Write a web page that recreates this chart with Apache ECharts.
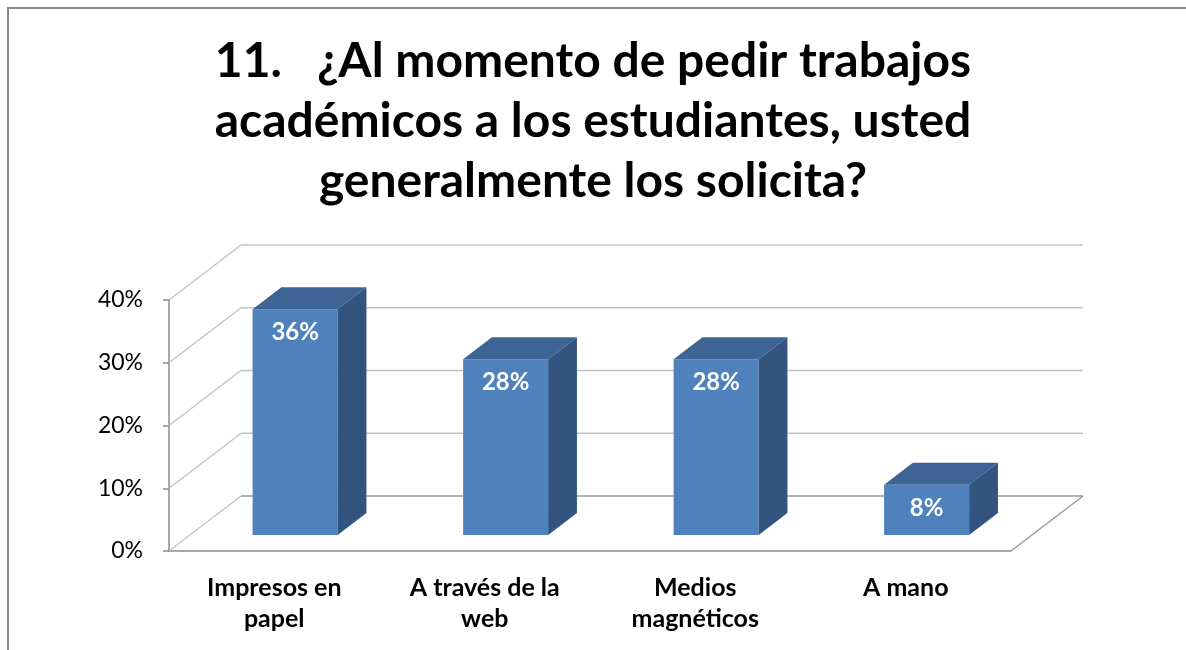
<!DOCTYPE html>
<html>
<head>
<meta charset="utf-8">
<script src="https://cdn.jsdelivr.net/npm/echarts@6/dist/echarts.min.js"></script>
<style>
  html, body { margin: 0; padding: 0; background: #fff; }
  #chart { width: 1186px; height: 650px; }
</style>
</head>
<body>
<div id="chart"></div>
<script>
// datos de la pregunta 11
const categorias = ['Impresos en\npapel', 'A través de la\nweb', 'Medios\nmagnéticos', 'A mano'];
const porcentajes = [36, 28, 28, 8];
const ticksY = [0, 10, 20, 30, 40];

const titulo = '11.   ¿Al momento de pedir trabajos\nacadémicos a los estudiantes, usted\ngeneralmente los solicita?';

// vector de profundidad del "3D" (pared trasera) y posición de las barras en esa profundidad
const DX = 72, DY = -55;
const Z0 = 0.29, ZD = 0.40;
const ANCHO_BARRA = 0.404;
const FUENTE = 'Lato, "Noto Sans", sans-serif';

let chartDom = document.getElementById('chart');
let myChart = echarts.init(chartDom);

// paredes: lineas de division en la pared izquierda y trasera, mas el piso
function renderParedes(params, api) {
    let cs = params.coordSys;
    let v = api.value(1);
    let y = api.coord([0, v])[1];
    let x0 = cs.x, x1 = cs.x + cs.width;
    let esPiso = v === 0;
    let color = '#c4c4c4';
    let children = [
        { type: 'line', shape: { x1: x0, y1: y, x2: x0 + DX, y2: y + DY }, style: { stroke: color, lineWidth: 1.5 } },
        { type: 'line', shape: { x1: x0 + DX, y1: y + DY, x2: x1 + DX, y2: y + DY }, style: { stroke: esPiso ? '#9a9a9a' : color, lineWidth: 1.5 } }
    ];
    if (esPiso) {
        children.push({ type: 'line', shape: { x1: x1, y1: y, x2: x1 + DX, y2: y + DY }, style: { stroke: '#9a9a9a', lineWidth: 1.5 } });
    }
    return { type: 'group', children: children };
}

// barras con cara frontal, superior y lateral
function renderBarra(params, api) {
    let i = api.value(0);
    let v = api.value(1);
    let base = api.coord([i, 0]);
    let tope = api.coord([i, v]);
    let banda = api.size([1, 0])[0];
    let bw = banda * ANCHO_BARRA;
    let cx = base[0] + DX * Z0;
    let L = cx - bw / 2, R = cx + bw / 2;
    let T = tope[1] + DY * Z0, B = base[1] + DY * Z0;
    let dx = DX * ZD, dy = DY * ZD;
    return {
        type: 'group',
        children: [
            { type: 'rect', shape: { x: L, y: T, width: bw, height: B - T }, style: { fill: '#4f81bd' } },
            { type: 'polygon', shape: { points: [[L, T], [R, T], [R + dx, T + dy], [L + dx, T + dy]] }, style: { fill: '#3d6494' } },
            { type: 'polygon', shape: { points: [[R, T], [R + dx, T + dy], [R + dx, B + dy], [R, B]] }, style: { fill: '#33547e' } },
            { type: 'text', style: { x: cx, y: T + 23, text: v + '%', fill: '#ffffff', font: 'bold 24px ' + FUENTE, align: 'center', verticalAlign: 'middle' } }
        ]
    };
}

let option = {
    animation: false,
    backgroundColor: '#ffffff',
    textStyle: { fontFamily: FUENTE },
    graphic: [
        { type: 'rect', shape: { x: 8, y: 8, width: 1300, height: 800 }, style: { fill: 'none', stroke: '#8a8a8a', lineWidth: 2 }, z: 100 }
    ],
    title: {
        text: titulo,
        left: 'center',
        top: 27,
        textStyle: { fontFamily: FUENTE, fontSize: 48, fontWeight: 'bold', color: '#000', lineHeight: 60 }
    },
    grid: { left: 169, right: 175, top: 300, bottom: 99 },
    xAxis: {
        type: 'category',
        data: categorias,
        axisLine: { lineStyle: { color: '#8c8c8c', width: 1.5 } },
        axisTick: { length: 6, lineStyle: { color: '#8c8c8c', width: 1.5 } },
        axisLabel: { margin: 21, fontFamily: FUENTE, fontSize: 25, fontWeight: 'bold', color: '#000', lineHeight: 31, interval: 0 }
    },
    yAxis: {
        type: 'value',
        min: 0, max: 40, interval: 10,
        axisLine: { show: true, lineStyle: { color: '#8c8c8c', width: 1.5 } },
        axisTick: { show: true, length: 6, lineStyle: { color: '#8c8c8c', width: 1.5 } },
        splitLine: { show: false },
        axisLabel: { formatter: '{value}%', margin: 26, fontFamily: FUENTE, fontSize: 23, color: '#000' }
    },
    series: [
        {
            type: 'custom',
            renderItem: renderParedes,
            data: ticksY.map(t => [0, t]),
            encode: { x: 0, y: 1 },
            z: 1,
            silent: true
        },
        {
            type: 'custom',
            renderItem: renderBarra,
            data: porcentajes.map((p, i) => [i, p]),
            encode: { x: 0, y: 1 },
            z: 3
        }
    ]
};
myChart.setOption(option);
</script>
</body>
</html>
